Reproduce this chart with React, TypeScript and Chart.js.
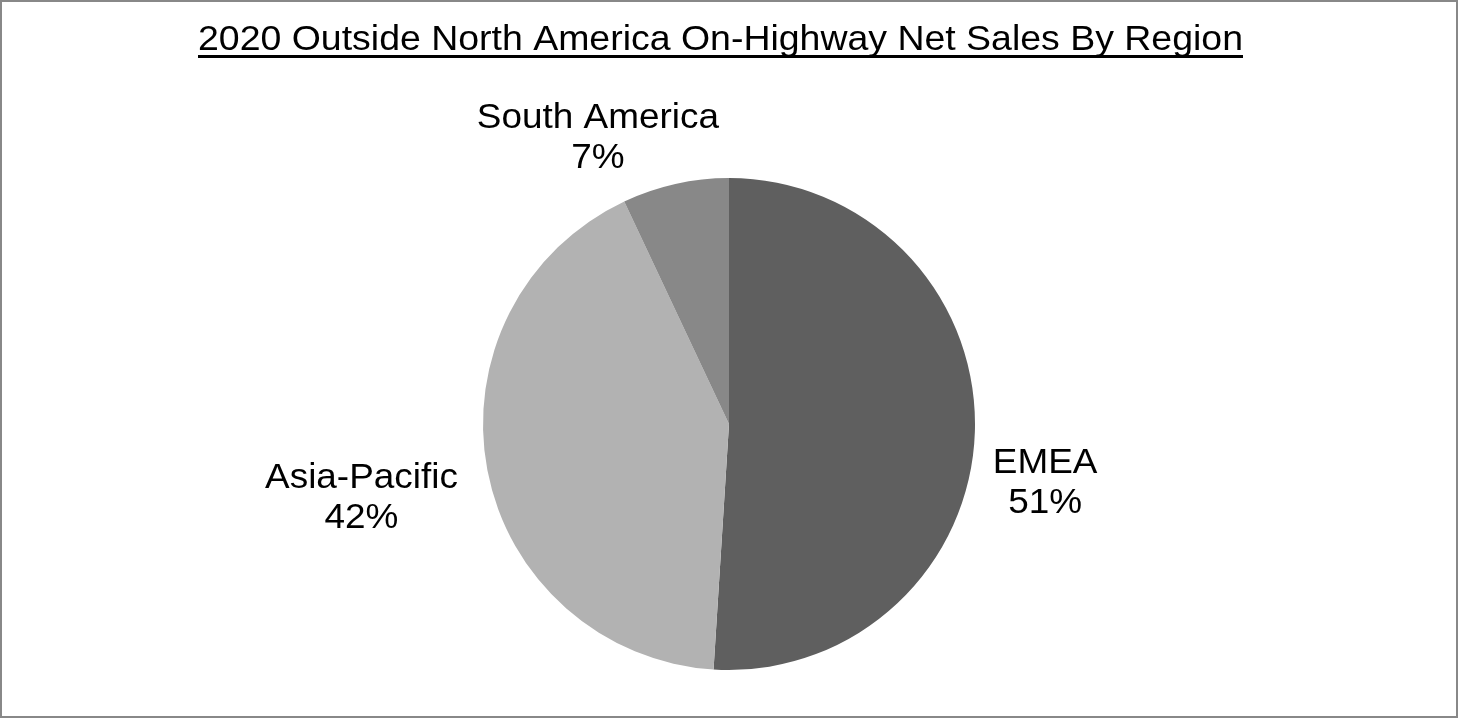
import Chart, { ChartConfiguration, Plugin } from "chart.js/auto"
import { useEffect, useRef } from "react"

const title = "2020 Outside North America On-Highway Net Sales By Region"
const regions = ["EMEA", "Asia-Pacific", "South America"]
const shares = [51, 42, 7]
const colors = ["#5f5f5f", "#b2b2b2", "#888888"]

// label anchor (first line baseline) relative to pie centre, in radius units
const labelSpots = [
	[1.285, 0.199],
	[-1.494, 0.26],
	[-0.533, -1.203]
]

const FAMILY = "'Liberation Sans', Arial, sans-serif"

// the source text is drawn a bit wider than the font's natural width
function wideText(ctx: CanvasRenderingContext2D, text: string, x: number, y: number, sx: number) {
	ctx.save()
	ctx.translate(x, y)
	ctx.scale(sx, 1)
	ctx.fillText(text, 0, 0)
	ctx.restore()
}

const decorations: Plugin<"pie"> = {
	id: "decorations",
	afterDraw(chart) {
		const ctx = chart.ctx
		ctx.save()
		ctx.fillStyle = "#000"
		ctx.textAlign = "center"
		ctx.textBaseline = "alphabetic"

		// title with underline
		ctx.font = "35px " + FAMILY
		const tx = 720.5
		const natural = ctx.measureText(title).width
		const titleScale = 1045 / natural
		wideText(ctx, title, tx, 50, titleScale)
		const w = natural * titleScale
		ctx.fillRect(tx - w / 2, 55, w, 3)

		// slice labels
		ctx.font = "35px " + FAMILY
		const labelScale = 1.055
		const meta = chart.getDatasetMeta(0)
		meta.data.forEach((el: any, i) => {
			const r = el.outerRadius
			const x = el.x + labelSpots[i][0] * r
			const y = el.y + labelSpots[i][1] * r
			wideText(ctx, regions[i], x, y, labelScale)
			wideText(ctx, shares[i] + "%", x, y + 40, labelScale)
		})
		ctx.restore()
	}
}

const config: ChartConfiguration<"pie"> = {
	type: "pie",
	data: {
		labels: regions,
		datasets: [
			{
				data: shares,
				backgroundColor: colors,
				borderWidth: 0
			}
		]
	},
	options: {
		animation: false,
		responsive: false,
		devicePixelRatio: 1,
		layout: {
			padding: { top: 178, bottom: 49, left: 0, right: 5 }
		},
		plugins: {
			legend: { display: false },
			title: { display: false },
			tooltip: { enabled: false }
		}
	},
	plugins: [decorations]
}

export default function App() {
	const canvasRef = useRef<HTMLCanvasElement>(null)

	useEffect(() => {
		const ctx = canvasRef.current?.getContext("2d") as CanvasRenderingContext2D
		const chart = new Chart(ctx, config)
		return () => {
			chart.destroy()
		}
	}, [])

	return (
		<div style={{ position: "absolute", left: 0, top: 0, width: 1463, height: 719, background: "#fff" }}>
			<canvas ref={canvasRef} width={1463} height={719} style={{ position: "absolute", left: 0, top: 0 }} />
			<div
				style={{
					position: "absolute",
					left: 0,
					top: 0,
					width: 1458,
					height: 718,
					boxSizing: "border-box",
					border: "2px solid #888",
					pointerEvents: "none"
				}}
			/>
		</div>
	)
}
